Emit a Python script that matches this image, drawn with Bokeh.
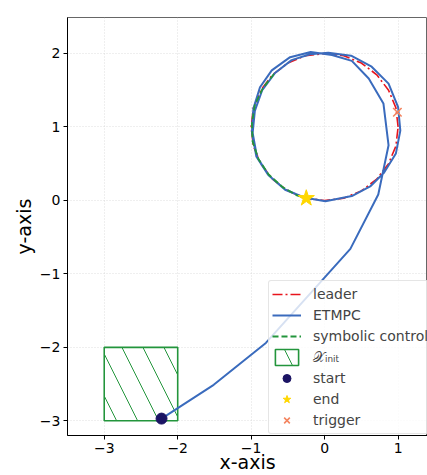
from bokeh.plotting import figure
from bokeh.models import Legend, LegendItem, Range1d, FixedTicker
from bokeh.embed import file_html
from bokeh.resources import INLINE

# ---- data ----
x_ticks = [-3, -2, -1, 0, 1]
x_tick_labels = ["\u22123", "\u22122", "\u22121", "0", "1"]
y_ticks = [-3, -2, -1, 0, 1, 2]
y_tick_labels = ["\u22123", "\u22122", "\u22121", "0", "1", "2"]

leader_x = [1.00, 0.97, 0.87, 0.71, 0.50, 0.26, 0.00, -0.26, -0.50, -0.71, -0.87, -0.97, -1.00,
            -0.97, -0.87, -0.71, -0.50, -0.26, 0.00, 0.26, 0.50, 0.71, 0.87, 0.97, 1.00]
leader_y = [1.00, 1.26, 1.50, 1.71, 1.87, 1.97, 2.00, 1.97, 1.87, 1.71, 1.50, 1.26, 1.00,
            0.74, 0.50, 0.29, 0.13, 0.03, 0.00, 0.03, 0.13, 0.29, 0.50, 0.74, 1.00]

etmpc_x = [-2.22, -1.51, -0.80, 0.35, 0.73, 0.87, 0.80, 0.60, 0.37, 0.10, -0.19, -0.47, -0.72,
           -0.88, -0.97, -0.99, -0.93, -0.77, -0.54, -0.28, 0.01, 0.37, 0.62, 0.81, 0.97, 1.03,
           1.00, 0.87, 0.64, 0.36, 0.05, -0.20, -0.45, -0.68, -0.85, -0.95, -0.98, -0.92, -0.76,
           -0.53, -0.25]
etmpc_y = [-2.97, -2.51, -1.94, -0.66, 0.08, 0.75, 1.32, 1.66, 1.90, 1.98, 2.02, 1.95, 1.77,
           1.54, 1.25, 0.93, 0.60, 0.35, 0.15, 0.04, -0.01, 0.06, 0.19, 0.38, 0.64, 0.95,
           1.27, 1.59, 1.82, 1.97, 2.01, 1.99, 1.91, 1.73, 1.50, 1.22, 0.92, 0.59, 0.34,
           0.14, 0.03]

symb_x = [-0.69, -0.84, -0.95, -0.99, -0.98, -0.90, -0.76, -0.57, -0.38, -0.25]
symb_y = [1.72, 1.53, 1.30, 1.05, 0.80, 0.56, 0.35, 0.18, 0.07, 0.03]

init_left, init_right, init_bottom, init_top = [-3.0], [-2.0], [-3.0], [-2.0]
start_x, start_y = [-2.22], [-2.97]
end_x, end_y = [-0.25], [0.03]
trigger_x, trigger_y = [0.99], [1.20]

FONT = "DejaVu Sans"

p = figure(width=427, height=475, output_backend="svg", toolbar_location=None,
           x_range=Range1d(-3.5, 1.4), y_range=Range1d(-3.2, 2.49),
           min_border_left=67, min_border_right=0, min_border_top=17, min_border_bottom=0)
p.background_fill_color = "white"
p.border_fill_color = "white"
p.outline_line_color = "#666666"
p.outline_line_width = 1

for ax in (p.xaxis[0], p.yaxis[0]):
    ax.axis_line_color = "black"
    ax.axis_line_width = 1
    ax.major_tick_in = 0
    ax.major_tick_out = 4
    ax.major_tick_line_color = "black"
    ax.minor_tick_line_color = None
    ax.major_label_text_font = FONT
    ax.major_label_text_font_size = "14px"
    ax.major_label_text_color = "black"
    ax.axis_label_text_font = FONT
    ax.axis_label_text_font_size = "19px"
    ax.axis_label_text_font_style = "normal"
    ax.axis_label_text_color = "black"
    ax.major_label_standoff = 3

p.xaxis.ticker = FixedTicker(ticks=x_ticks)
p.yaxis.ticker = FixedTicker(ticks=y_ticks)
p.xaxis.major_label_overrides = dict(zip(x_ticks, x_tick_labels))
p.yaxis.major_label_overrides = dict(zip(y_ticks, y_tick_labels))
p.xaxis.axis_label = "x-axis"
p.yaxis.axis_label = "y-axis"
p.xaxis.axis_label_standoff = -5
p.yaxis.axis_label_standoff = 2

p.grid.grid_line_color = "#c8c8c8"
p.grid.grid_line_alpha = 0.6
p.grid.grid_line_dash = "1 2"
p.grid.grid_line_width = 1

GREEN = "#23953c"
BLUE = "#3a6bbd"
RED = "#e8141c"

r_init = p.quad(left=init_left, right=init_right, bottom=init_bottom, top=init_top,
                fill_color=None, line_color=GREEN, line_width=1.6,
                hatch_pattern="\\", hatch_color=GREEN, hatch_scale=42, hatch_weight=1)
r_leader = p.line(leader_x, leader_y, line_color=RED, line_width=1.6, line_dash="10 3 2 3")
r_etmpc = p.line(etmpc_x, etmpc_y, line_color=BLUE, line_width=2)
r_symb = p.line(symb_x, symb_y, line_color=GREEN, line_width=1.8, line_dash="6 3")
r_start = p.scatter(start_x, start_y, marker="circle", size=11, fill_color="#1b1464",
                    line_color="#1b1464")
r_end = p.scatter(end_x, end_y, marker="star", size=17, fill_color="#ffd700",
                  line_color="#ffd700")
r_trig = p.scatter(trigger_x, trigger_y, marker="x", size=12, line_color="#f4845f",
                   line_width=1.6)

legend = Legend(items=[
    LegendItem(label="leader", renderers=[r_leader]),
    LegendItem(label="ETMPC", renderers=[r_etmpc]),
    LegendItem(label="symbolic control", renderers=[r_symb]),
    LegendItem(label="\U0001D4B3\u1D62\u2099\u1D62\u209C", renderers=[r_init]),
    LegendItem(label="start", renderers=[r_start]),
    LegendItem(label="end", renderers=[r_end]),
    LegendItem(label="trigger", renderers=[r_trig]),
], location=(201, 1))
legend.label_text_font = FONT
legend.label_text_font_size = "14px"
legend.label_height = 18
legend.glyph_height = 20
legend.glyph_width = 29
legend.spacing = 1
legend.padding = 3
legend.margin = 0
legend.label_standoff = 12
legend.border_line_color = "#cccccc"
legend.border_line_width = 1
legend.border_radius = 3
legend.background_fill_color = "white"
legend.background_fill_alpha = 0.8
p.add_layout(legend)

open("out.html", "w").write(file_html(p, INLINE))
